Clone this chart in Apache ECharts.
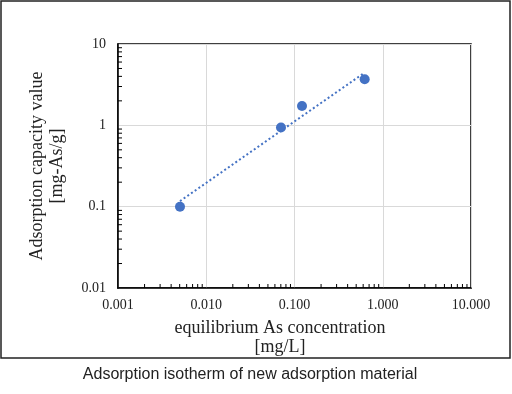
<!DOCTYPE html>
<html>
<head>
<meta charset="utf-8">
<script src="https://cdn.jsdelivr.net/npm/echarts@6/dist/echarts.min.js"></script>
<style>html,body{margin:0;padding:0;background:#fff;}#c{width:512px;height:394px;}</style>
</head>
<body>
<div id="c"></div>
<script>
// Data
var concentration = [0.00504, 0.0703, 0.1216, 0.624];   // mg/L
var capacity = [0.100, 0.94, 1.73, 3.69];                // mg-As/g
var trendX = [0.00504, 0.624];
var trendY = [0.117, 4.45];
var xTicks = ['0.001', '0.010', '0.100', '1.000', '10.000'];
var yTicks = ['0.01', '0.1', '1', '10'];
var xTitle = 'equilibrium As concentration';
var xUnit = '[mg/L]';
var yTitle = 'Adsorption capacity value';
var yUnit = '[mg-As/g]';
var caption = 'Adsorption isotherm of new adsorption material';

var xMin = Number(xTicks[0]), xMax = Number(xTicks[xTicks.length - 1]);
var yMin = Number(yTicks[0]), yMax = Number(yTicks[yTicks.length - 1]);

// minor tick positions (2..9 of each decade)
var xMinor = [], yMinor = [];
for (var d = xMin; d < xMax * 0.999; d *= 10) for (var k = 2; k <= 9; k++) xMinor.push([d * k, yMin]);
for (var e = yMin; e < yMax * 0.999; e *= 10) for (var m = 2; m <= 9; m++) yMinor.push([xMin, e * m]);

var blue = '#4472C4';
var serif = '"Liberation Serif", "DejaVu Serif", serif';

var chart = echarts.init(document.getElementById('c'), null, {renderer: 'canvas'});
chart.setOption({
  animation: false,
  backgroundColor: '#fff',
  grid: {left: 118, right: 41, top: 44, bottom: 106, show: true, borderColor: '#000', borderWidth: 1.5, containLabel: false},
  xAxis: {
    type: 'log', logBase: 10, min: xMin, max: xMax,
    axisLine: {show: true, lineStyle: {color: '#000', width: 1.5}},
    axisTick: {show: false},
    splitLine: {show: true, lineStyle: {color: '#d9d9d9', width: 1}},
    axisLabel: {
      margin: 10, color: '#222', fontFamily: serif, fontSize: 14,
      formatter: function (v) { return Number(Number(v).toPrecision(3)).toFixed(3); }
    }
  },
  yAxis: {
    type: 'log', logBase: 10, min: yMin, max: yMax,
    axisLine: {show: true, lineStyle: {color: '#000', width: 1.5}},
    axisTick: {show: false},
    splitLine: {show: true, lineStyle: {color: '#d9d9d9', width: 1}},
    axisLabel: {
      margin: 12, color: '#222', fontFamily: serif, fontSize: 14,
      formatter: function (v) { return String(Number(Number(v).toPrecision(3))); }
    }
  },
  graphic: [
    {type: 'rect', shape: {x: 1, y: 1, width: 509, height: 357}, style: {fill: 'none', stroke: '#222', lineWidth: 1.5}, z: -1},
    {type: 'text', x: 280, y: 328, style: {text: xTitle, font: '18px ' + serif, fill: '#222', align: 'center', verticalAlign: 'middle'}},
    {type: 'text', x: 280, y: 347, style: {text: xUnit, font: '18px ' + serif, fill: '#222', align: 'center', verticalAlign: 'middle'}},
    {type: 'text', x: 37, y: 166, rotation: Math.PI / 2, style: {text: yTitle, font: '18px ' + serif, fill: '#222', align: 'center', verticalAlign: 'middle'}},
    {type: 'text', x: 57, y: 166, rotation: Math.PI / 2, style: {text: yUnit, font: '18px ' + serif, fill: '#222', align: 'center', verticalAlign: 'middle'}},
    {type: 'text', x: 250, y: 375, style: {text: caption, font: '16px "Liberation Sans", Arial, sans-serif', fill: '#222', align: 'center', verticalAlign: 'middle'}}
  ],
  series: [
    {
      type: 'line', data: trendX.map(function (x, i) { return [x, trendY[i]]; }),
      symbol: 'none', lineStyle: {color: blue, width: 2, type: [2, 2.5]}, z: 2, silent: true
    },
    {
      type: 'scatter', data: concentration.map(function (x, i) { return [x, capacity[i]]; }),
      symbol: 'circle', symbolSize: 10, itemStyle: {color: blue, opacity: 1}, z: 3
    },
    {
      type: 'custom', clip: false, silent: true, z: 4,
      data: xMinor,
      renderItem: function (params, api) {
        var p = api.coord([api.value(0), api.value(1)]);
        return {type: 'line', shape: {x1: p[0], y1: p[1], x2: p[0], y2: p[1] - 4}, style: {stroke: '#000', lineWidth: 1}};
      }
    },
    {
      type: 'custom', clip: false, silent: true, z: 4,
      data: yMinor,
      renderItem: function (params, api) {
        var p = api.coord([api.value(0), api.value(1)]);
        return {type: 'line', shape: {x1: p[0], y1: p[1], x2: p[0] + 4, y2: p[1]}, style: {stroke: '#000', lineWidth: 1}};
      }
    }
  ]
});
</script>
</body>
</html>
